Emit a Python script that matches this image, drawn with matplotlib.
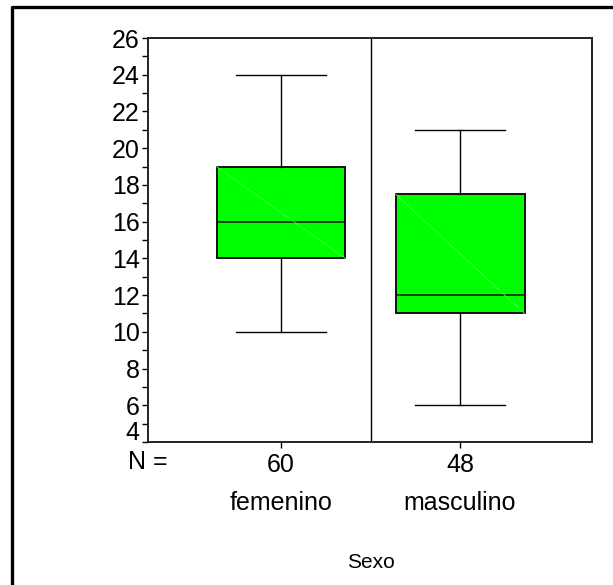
import matplotlib
matplotlib.use("Agg")
import matplotlib.pyplot as plt
import matplotlib.transforms as mtransforms
from matplotlib.lines import Line2D

plt.rcParams["font.family"] = ["Liberation Sans", "DejaVu Sans"]

# data
groups = ["femenino", "masculino"]
n_counts = [60, 48]
whis_lo = [10, 6]
q1 = [14, 11]
medians = [16, 12]
q3 = [19, 17.5]
whis_hi = [24, 21]
y_ticks = [4, 6, 8, 10, 12, 14, 16, 18, 20, 22, 24, 26]

box_color = "#00ff00"
diag_color = "#40ff40"
box_width = 0.72
fs = 18

fig = plt.figure(figsize=(6.13, 5.85), dpi=100)
ax = fig.add_axes([148 / 613, 1 - 442 / 585, 444 / 613, 404 / 585])

positions = list(range(1, len(groups) + 1))
stats = []
for i in range(len(groups)):
    stats.append(
        dict(med=medians[i], q1=q1[i], q3=q3[i], whislo=whis_lo[i], whishi=whis_hi[i], fliers=[])
    )

ax.bxp(
    stats,
    positions=positions,
    widths=box_width,
    capwidths=0.5,
    patch_artist=True,
    showfliers=False,
    boxprops=dict(facecolor=box_color, edgecolor="#111111", linewidth=1.4),
    medianprops=dict(color="#111111", linewidth=1.1),
    whiskerprops=dict(color="black", linewidth=1.0),
    capprops=dict(color="black", linewidth=1.0),
)

# faint diagonal seen inside each box
for i, p in enumerate(positions):
    ax.plot([p - box_width / 2, p + box_width / 2], [q3[i], q1[i]],
            color=diag_color, linewidth=0.6, zorder=3)

ax.axvline(1.5, color="black", linewidth=1.0)

ax.set_xlim(0.257, 2.737)
ax.set_ylim(4, 26)

for s in ax.spines.values():
    s.set_linewidth(1.4)
    s.set_color("#222222")

ax.set_yticks(y_ticks)
ax.set_yticklabels([str(t) for t in y_ticks])
ax.set_yticks(range(5, 26, 2), minor=True)
ax.tick_params(axis="y", which="both", direction="out", length=4, width=1.0,
               pad=2, labelsize=fs)
# lowest label sits a little above the axis floor
lbl = ax.get_yticklabels()[0]
lbl.set_transform(lbl.get_transform() + mtransforms.ScaledTranslation(0, 12 / 100, fig.dpi_scale_trans))

ax.set_xticks(positions)
ax.set_xticklabels([str(n) for n in n_counts])
ax.tick_params(axis="x", direction="out", length=4, width=1.0, pad=4, labelsize=fs)

trans = mtransforms.blended_transform_factory(ax.transData, fig.transFigure)
ax.text(0.257, 1 - 462 / 585, "N =", transform=trans, ha="center", va="center", fontsize=fs)
for p, g in zip(positions, groups):
    ax.text(p, 1 - 503 / 585, g, transform=trans, ha="center", va="center", fontsize=fs)
ax.text(1.5, 1 - 563 / 585, "Sexo", transform=trans, ha="center", va="center", fontsize=15)

# outer frame, cropped at right and bottom
fig.add_artist(Line2D([12 / 613, 12 / 613, 1.0], [0.0, 1 - 7 / 585, 1 - 7 / 585],
                      transform=fig.transFigure, color="black", linewidth=2.4))

fig.savefig("out.png", dpi=100)
